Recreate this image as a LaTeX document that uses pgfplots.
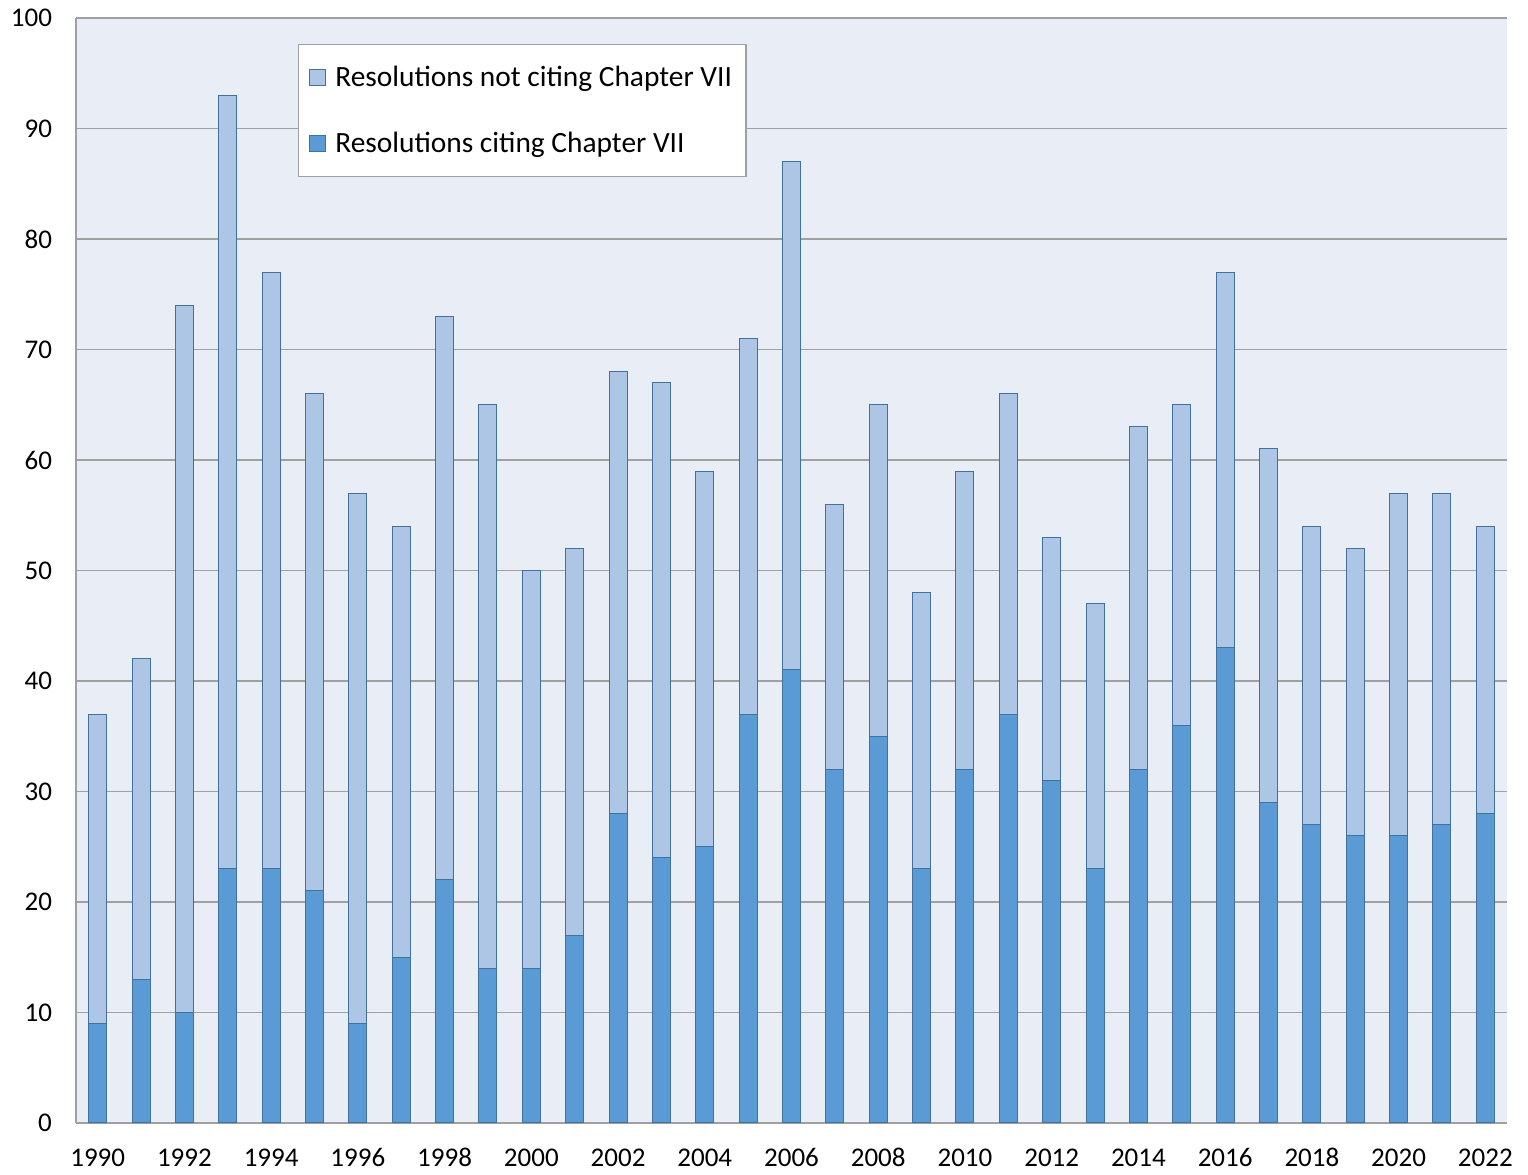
\documentclass[border=0pt]{standalone}
\usepackage{pgfplots}
\pgfplotsset{compat=1.18}
\usepackage{fontspec}
\setmainfont{Carlito}
\definecolor{darkbar}{HTML}{5B9BD5}
\definecolor{lightbar}{HTML}{AEC6E6}
\definecolor{baredge}{HTML}{41719C}
\definecolor{plotbg}{HTML}{E9EDF6}
\definecolor{gridc}{HTML}{A0A0A0}
\begin{document}
\begin{tikzpicture}
\begin{axis}[
  name=ax,
  scale only axis,
  width=715.5pt, height=552.5pt,
  xmin=1989.5, xmax=2022.5,
  ymin=0, ymax=100,
  ybar stacked, bar width=9pt,
  axis background/.style={fill=plotbg},
  axis x line*=bottom, axis y line*=left,
  axis line style={gridc, line width=0.7pt},
  ymajorgrids, grid style={gridc, line width=0.7pt},
  ytick={0,10,...,100},
  xtick={1990,1992,...,2022},
  major tick length=0pt,
  /pgf/number format/assume math mode=true,
  /pgf/number format/1000 sep={},
  tick label style={font=\fontsize{13.5}{16}\selectfont},
  yticklabel style={xshift=-8.5pt},
  xticklabel style={anchor=base, yshift=-21.5pt},
  reverse legend,
  legend style={at={(0.155,0.9765)}, anchor=north west, draw=gridc, line width=0.7pt,
    fill=white, font=\fontsize{14.7}{17}\selectfont, row sep=17.5pt,
    inner xsep=5pt, inner ysep=8.5pt,
    /tikz/every odd column/.append style={column sep=3pt},
    /tikz/every even column/.append style={column sep=0pt}},
  legend cell align=left,
  legend image code/.code={\draw[#1, line width=0.4pt] (0pt,-4pt) rectangle (8pt,4pt);},
]
\addplot[fill=darkbar, draw=baredge, line width=0.5pt] coordinates {
(1990,9)(1991,13)(1992,10)(1993,23)(1994,23)(1995,21)(1996,9)(1997,15)(1998,22)(1999,14)
(2000,14)(2001,17)(2002,28)(2003,24)(2004,25)(2005,37)(2006,41)(2007,32)(2008,35)(2009,23)
(2010,32)(2011,37)(2012,31)(2013,23)(2014,32)(2015,36)(2016,43)(2017,29)(2018,27)(2019,26)
(2020,26)(2021,27)(2022,28)};
\addlegendentry{Resolutions citing Chapter VII}
\addplot[fill=lightbar, draw=baredge, line width=0.5pt] coordinates {
(1990,28)(1991,29)(1992,64)(1993,70)(1994,54)(1995,45)(1996,48)(1997,39)(1998,51)(1999,51)
(2000,36)(2001,35)(2002,40)(2003,43)(2004,34)(2005,34)(2006,46)(2007,24)(2008,30)(2009,25)
(2010,27)(2011,29)(2012,22)(2013,24)(2014,31)(2015,29)(2016,34)(2017,32)(2018,27)(2019,26)
(2020,31)(2021,30)(2022,26)};
\addlegendentry{Resolutions not citing Chapter VII}
\end{axis}
\path ([xshift=-38pt,yshift=-26pt]ax.south west) rectangle ([xshift=10.5pt,yshift=9pt]ax.north east);
\end{tikzpicture}
\end{document}
